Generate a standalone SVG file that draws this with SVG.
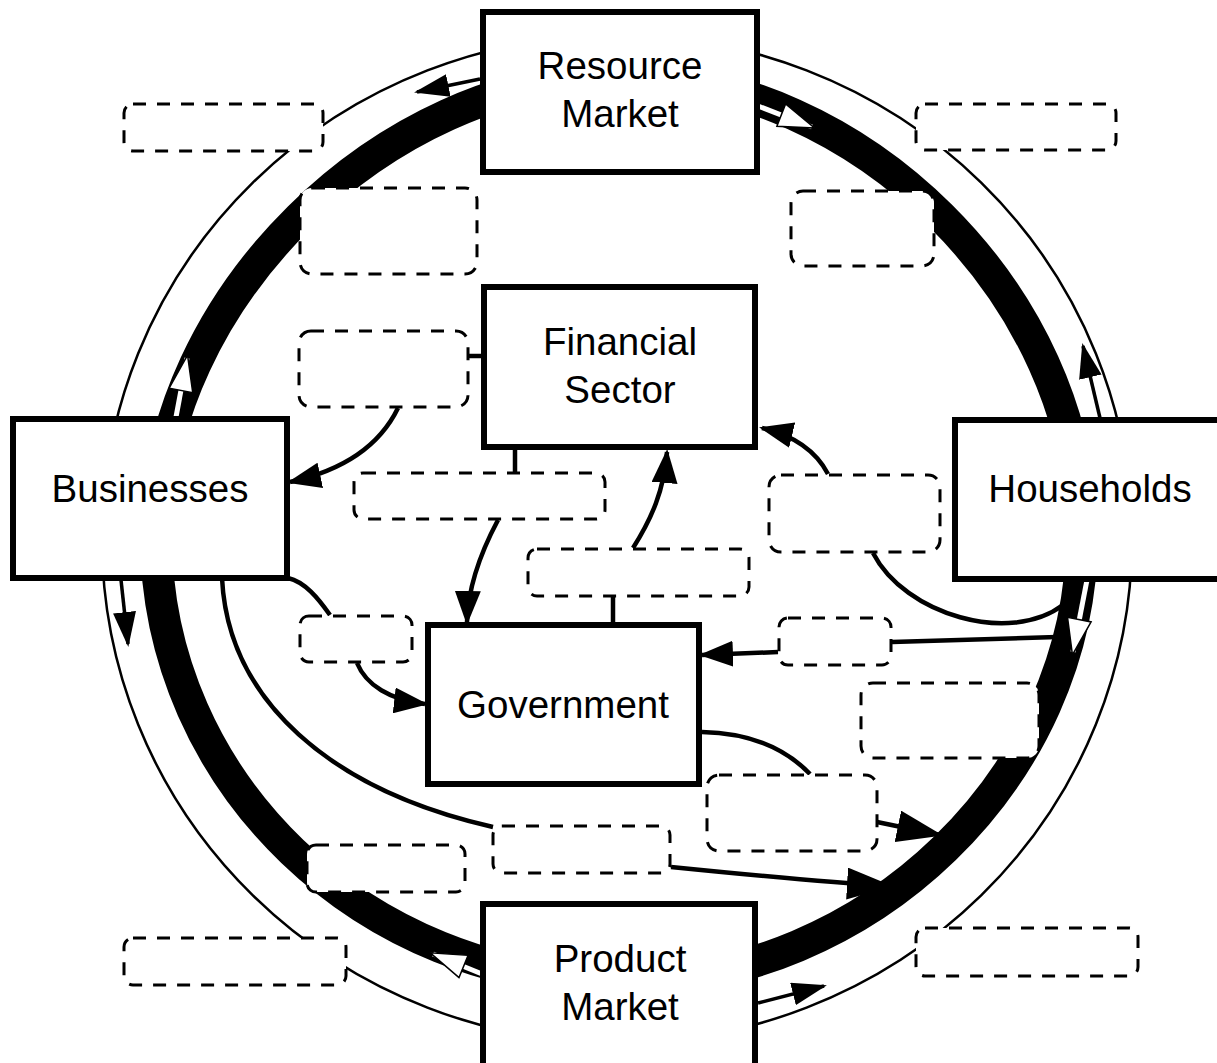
<svg xmlns="http://www.w3.org/2000/svg" width="1217" height="1063" viewBox="0 0 1217 1063">
<style>
.node rect{fill:#fff;stroke:#000;stroke-width:6}
.node text{font-family:"Liberation Sans",Arial,sans-serif;font-size:38.5px;fill:#000;text-anchor:middle}
.blank rect{fill:#fff;stroke:#000;stroke-width:3;stroke-dasharray:13 11}
.conn{fill:none;stroke:#000;stroke-width:4.5}
.ringB{stroke:#000;stroke-width:3.5}
.ringW{stroke:#fff;stroke-width:5}
</style>
<defs>
<marker id="ah" markerUnits="userSpaceOnUse" markerWidth="34" markerHeight="26" viewBox="0 0 34 26" refX="31" refY="13" orient="auto"><path d="M0,0 L34,13 L0,26 z" fill="#000"/></marker>
<marker id="ahL" markerUnits="userSpaceOnUse" markerWidth="46" markerHeight="32" viewBox="0 0 46 32" refX="43" refY="16" orient="auto"><path d="M0,0 L46,16 L0,32 z" fill="#000"/></marker>
<marker id="ahB" markerUnits="userSpaceOnUse" markerWidth="35" markerHeight="23" viewBox="0 0 35 23" refX="32" refY="11.5" orient="auto"><path d="M0,0 L35,11.5 L0,23 z" fill="#000"/></marker>
<marker id="ahW" markerUnits="userSpaceOnUse" markerWidth="36" markerHeight="24" viewBox="0 0 36 24" refX="33" refY="12" orient="auto" overflow="visible"><path d="M0,0 L36,12 L0,24 z" fill="#fff" stroke="#000" stroke-width="1.5"/></marker>
</defs>
<g id="connectors">
<g id="flow-ring">
<ellipse cx="617" cy="539" rx="515" ry="504" fill="none" stroke="#000" stroke-width="2.5"/>
<path d="M156,535 C156,301 383,76 620,76 C860,76 1082,297 1082,535 C1082,775 870,982 620,982 C365,982 156,783 156,535 Z" fill="none" stroke="#000" stroke-width="32"/>
<line class="ringB" x1="480" y1="79" x2="417" y2="92" marker-end="url(#ahB)"/>
<line class="ringW" x1="758" y1="106" x2="812" y2="127" marker-end="url(#ahW)"/>
<line class="ringB" x1="1100" y1="418" x2="1083" y2="346" marker-end="url(#ahB)"/>
<line class="ringW" x1="1087" y1="580" x2="1073" y2="652" marker-end="url(#ahW)"/>
<line class="ringW" x1="176" y1="417" x2="187" y2="358" marker-end="url(#ahW)"/>
<line class="ringB" x1="121" y1="580" x2="128" y2="644" marker-end="url(#ahB)"/>
<line class="ringW" x1="487" y1="976" x2="433" y2="954" marker-end="url(#ahW)"/>
<line class="ringB" x1="758" y1="1003" x2="824" y2="986" marker-end="url(#ahB)"/>
</g>
<path class="conn" d="M398,408 C380,445 345,470 290,482" marker-end="url(#ah)"/>
<path class="conn" d="M469,356 L482,356"/>
<path class="conn" d="M515,450 L515,472"/>
<path class="conn" d="M498,520 C482,550 468,585 467,622" marker-end="url(#ah)"/>
<path class="conn" d="M633,548 C652,518 664,490 667,452" marker-end="url(#ah)"/>
<path class="conn" d="M613,597 L613,622"/>
<path class="conn" d="M828,474 C818,455 800,437 762,428" marker-end="url(#ah)"/>
<path class="conn" d="M873,553 C905,615 1010,645 1063,605"/>
<path class="conn" d="M1057,637 L892,642"/>
<path class="conn" d="M778,652 L702,655" marker-end="url(#ah)"/>
<path class="conn" d="M702,732 C750,733 785,748 810,774"/>
<path class="conn" d="M877,822 L940,835" marker-end="url(#ahL)"/>
<path class="conn" d="M288,578 C305,582 318,598 330,615"/>
<path class="conn" d="M357,663 C366,685 390,700 425,704" marker-end="url(#ah)"/>
<path class="conn" d="M222,578 C228,700 330,790 493,827"/>
<path class="conn" d="M671,867 C740,874 820,882 890,886" marker-end="url(#ahL)"/>
</g>
<g id="node-resource-market" class="node"><rect x="483" y="12" width="274" height="160"/><text x="620" y="79">Resource</text><text x="620" y="127">Market</text></g>
<g id="node-financial-sector" class="node"><rect x="484" y="287" width="271" height="160"/><text x="620" y="355">Financial</text><text x="620" y="403">Sector</text></g>
<g id="node-businesses" class="node"><rect x="13" y="419" width="274" height="159"/><text x="150" y="502">Businesses</text></g>
<g id="node-households" class="node"><rect x="955" y="420" width="280" height="159"/><text x="1090" y="502">Households</text></g>
<g id="node-government" class="node"><rect x="428" y="625" width="271" height="159"/><text x="563" y="718">Government</text></g>
<g id="node-product-market" class="node"><rect x="483" y="904" width="272" height="170"/><text x="620" y="972">Product</text><text x="620" y="1020">Market</text></g>
<g id="blank-1" class="blank"><rect x="124" y="104" width="199" height="47" rx="9"/></g>
<g id="blank-2" class="blank"><rect x="916" y="104" width="200" height="46" rx="9"/></g>
<g id="blank-3" class="blank"><rect x="300" y="188" width="177" height="86" rx="12"/></g>
<g id="blank-4" class="blank"><rect x="791" y="191" width="143" height="75" rx="12"/></g>
<g id="blank-5" class="blank"><rect x="299" y="331" width="169" height="76" rx="12"/></g>
<g id="blank-6" class="blank"><rect x="354" y="473" width="251" height="46" rx="9"/></g>
<g id="blank-7" class="blank"><rect x="528" y="549" width="221" height="47" rx="9"/></g>
<g id="blank-8" class="blank"><rect x="769" y="475" width="171" height="77" rx="12"/></g>
<g id="blank-9" class="blank"><rect x="300" y="616" width="112" height="46" rx="9"/></g>
<g id="blank-10" class="blank"><rect x="779" y="618" width="112" height="47" rx="9"/></g>
<g id="blank-11" class="blank"><rect x="861" y="683" width="178" height="75" rx="12"/></g>
<g id="blank-12" class="blank"><rect x="707" y="775" width="170" height="76" rx="12"/></g>
<g id="blank-13" class="blank"><rect x="307" y="845" width="158" height="47" rx="9"/></g>
<g id="blank-14" class="blank"><rect x="493" y="826" width="177" height="47" rx="9"/></g>
<g id="blank-15" class="blank"><rect x="124" y="938" width="222" height="47" rx="9"/></g>
<g id="blank-16" class="blank"><rect x="916" y="928" width="222" height="48" rx="9"/></g>
</svg>
